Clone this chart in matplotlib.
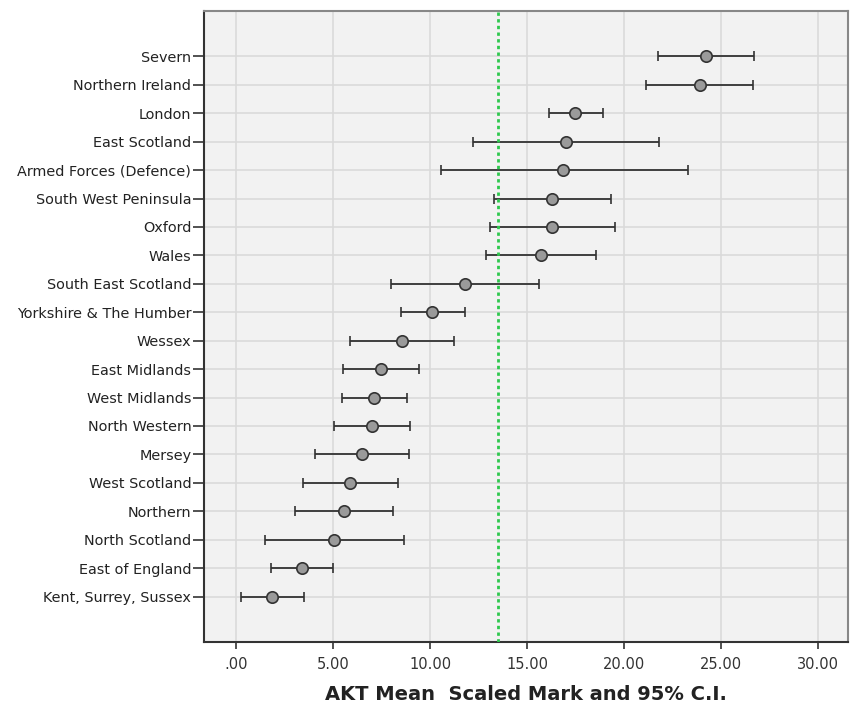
import numpy as np
import matplotlib.pyplot as plt

# Regions listed bottom to top
regions = [
    "Kent, Surrey, Sussex", "East of England", "North Scotland", "Northern",
    "West Scotland", "Mersey", "North Western", "West Midlands", "East Midlands",
    "Wessex", "Yorkshire & The Humber", "South East Scotland", "Wales", "Oxford",
    "South West Peninsula", "Armed Forces (Defence)", "East Scotland", "London",
    "Northern Ireland", "Severn",
]
means = [1.85, 3.37, 5.04, 5.55, 5.86, 6.48, 6.98, 7.12, 7.45, 8.53,
         10.12, 11.79, 15.73, 16.30, 16.31, 16.88, 17.00, 17.50, 23.91, 24.24]
ci_low = [0.23, 1.80, 1.46, 3.04, 3.42, 4.04, 5.05, 5.43, 5.50, 5.85,
          8.48, 7.97, 12.87, 13.09, 13.32, 10.55, 12.20, 16.13, 21.12, 21.76]
ci_high = [3.49, 4.97, 8.67, 8.07, 8.33, 8.93, 8.95, 8.79, 9.41, 11.23,
           11.80, 15.63, 18.58, 19.55, 19.34, 23.29, 21.81, 18.92, 26.68, 26.73]
overall_mean = 13.52
xticks = [0, 5, 10, 15, 20, 25, 30]
xticklabels = [".00", "5.00", "10.00", "15.00", "20.00", "25.00", "30.00"]

means = np.array(means)
err = np.vstack([means - np.array(ci_low), np.array(ci_high) - means])
ypos = np.arange(len(regions))

fig = plt.figure(figsize=(8.53, 7.13), dpi=100)
ax = fig.add_axes([0.239, 0.0996, 0.755, 0.885])
ax.set_facecolor("#f2f2f2")

ax.errorbar(means, ypos, xerr=err, fmt="o", color="#333333", ecolor="#333333",
            elinewidth=1.3, capsize=3.5, capthick=1.3,
            markersize=8.2, markerfacecolor="#9a9a9a", markeredgecolor="#333333",
            markeredgewidth=1.2, zorder=3)
ax.axvline(overall_mean, color="#2ec84e", linestyle=(0, (1.2, 1.2)), linewidth=2, zorder=4)

ax.set_xlim(-1.68, 31.56)
ax.set_ylim(-1.6, len(regions) - 1 + 1.6)
ax.set_xticks(xticks)
ax.set_xticklabels(xticklabels, fontsize=10.5, color="#333333")
ax.set_yticks(ypos)
ax.set_yticklabels(regions, fontsize=10.4, color="#222222")
ax.tick_params(axis="y", length=8, width=1.2, color="#333333", pad=1)
ax.tick_params(axis="x", length=5, width=1.2, color="#333333", pad=6)

ax.grid(True, color="#d9d9d9", linewidth=1.1, zorder=0)
ax.set_axisbelow(True)
for side in ["left", "bottom"]:
    ax.spines[side].set_color("#333333")
    ax.spines[side].set_linewidth(1.5)
for side in ["top", "right"]:
    ax.spines[side].set_color("#888888")
    ax.spines[side].set_linewidth(1.5)

ax.set_xlabel("AKT Mean  Scaled Mark and 95% C.I.", fontsize=14,
              fontweight="bold", color="#222222", labelpad=9)

fig.savefig("out.png", dpi=100)
